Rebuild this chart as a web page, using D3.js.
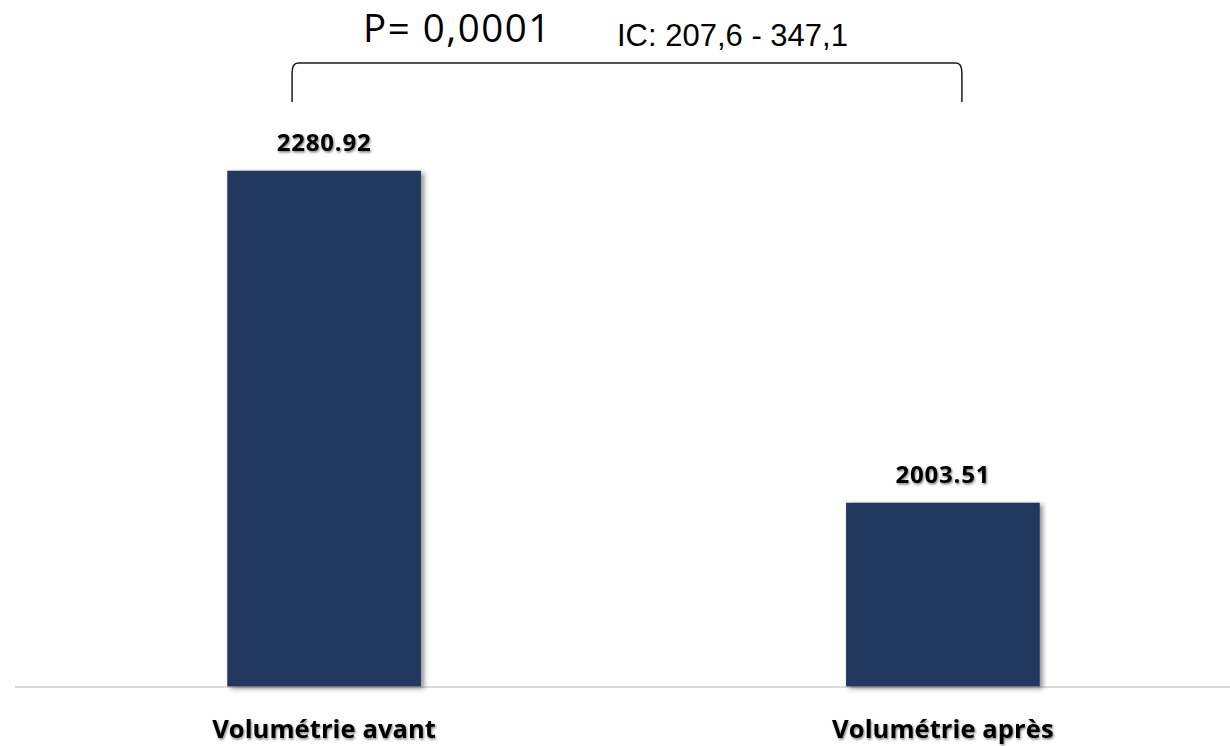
<!DOCTYPE html>
<html>
<head>
<meta charset="utf-8">
<script src="https://cdn.jsdelivr.net/npm/d3@7"></script>
<style>
  body { margin: 0; background: #fff; }
  svg { display: block; }
</style>
</head>
<body>
<div id="chart"></div>
<script>
// data
var categories = ["Volumétrie avant", "Volumétrie après"];
var values = [2280.92, 2003.51];
var valueLabels = ["2280.92", "2003.51"];
var pText = "P= 0,0001";
var icText = "IC: 207,6 - 347,1";

var width = 1230, height = 746;

var svg = d3.select("#chart").append("svg")
  .attr("width", width)
  .attr("height", height);

var defs = svg.append("defs");
defs.append("filter").attr("id", "barShadow")
  .attr("x", "-10%").attr("y", "-10%").attr("width", "130%").attr("height", "130%")
  .append("feDropShadow")
  .attr("dx", 3).attr("dy", 2).attr("stdDeviation", 2.5)
  .attr("flood-color", "#000").attr("flood-opacity", 0.45);
defs.append("filter").attr("id", "textShadow")
  .attr("x", "-10%").attr("y", "-30%").attr("width", "130%").attr("height", "160%")
  .append("feDropShadow")
  .attr("dx", 1).attr("dy", 1.5).attr("stdDeviation", 1.2)
  .attr("flood-color", "#000").attr("flood-opacity", 0.5);

var x = d3.scaleBand()
  .domain(categories)
  .range([15, 1252])
  .paddingInner(0.687)
  .paddingOuter(0.343);

var y = d3.scaleLinear()
  .domain([1850, 2300])
  .range([686.4, 147.9]);

// baseline
svg.append("line")
  .attr("x1", 15).attr("x2", width)
  .attr("y1", y(1850) + 0.5).attr("y2", y(1850) + 0.5)
  .attr("stroke", "#d9d9d9")
  .attr("stroke-width", 2);

// bars
svg.selectAll(".bar")
  .data(values)
  .enter().append("rect")
  .attr("class", "bar")
  .attr("x", function(d, i) { return x(categories[i]); })
  .attr("y", function(d) { return y(d); })
  .attr("width", x.bandwidth())
  .attr("height", function(d) { return y(1850) - y(d); })
  .attr("fill", "#22385f")
  .attr("filter", "url(#barShadow)");

// value labels
svg.selectAll(".val")
  .data(values)
  .enter().append("text")
  .attr("class", "val")
  .attr("x", function(d, i) { return x(categories[i]) + x.bandwidth() / 2; })
  .attr("y", function(d) { return y(d) - 20; })
  .attr("text-anchor", "middle")
  .attr("font-family", "'Open Sans', sans-serif")
  .attr("font-weight", 700)
  .attr("font-size", 24)
  .attr("letter-spacing", 0.8)
  .attr("fill", "#000")
  .attr("filter", "url(#textShadow)")
  .text(function(d, i) { return valueLabels[i]; });

// category labels
svg.selectAll(".cat")
  .data(categories)
  .enter().append("text")
  .attr("class", "cat")
  .attr("x", function(d) { return x(d) + x.bandwidth() / 2; })
  .attr("y", 738)
  .attr("text-anchor", "middle")
  .attr("font-family", "'Open Sans', sans-serif")
  .attr("font-weight", 700)
  .attr("font-size", 25.5)
  .attr("letter-spacing", 0.1)
  .attr("fill", "#000")
  .attr("filter", "url(#textShadow)")
  .text(function(d) { return d; });

// bracket
var c1 = x(categories[0]) + x.bandwidth() / 2;
var c2 = x(categories[1]) + x.bandwidth() / 2;
var bl = c1 - 32, br = c2 + 19, bt = 63, bb = 102;
svg.append("path")
  .attr("d", "M" + bl + "," + bb + " L" + bl + "," + (bt + 10) +
    " Q" + bl + "," + bt + " " + (bl + 6) + "," + bt +
    " L" + (br - 6) + "," + bt +
    " Q" + br + "," + bt + " " + br + "," + (bt + 10) +
    " L" + br + "," + bb)
  .attr("fill", "none")
  .attr("stroke", "#1a1a1a")
  .attr("stroke-width", 1.5);

svg.append("text")
  .attr("x", 363).attr("y", 42)
  .attr("font-family", "'Open Sans', sans-serif")
  .attr("font-size", 38.5)
  .attr("letter-spacing", 1.5)
  .attr("fill", "#000")
  .text(pText);

svg.append("text")
  .attr("x", 617).attr("y", 46)
  .attr("font-family", "'Liberation Sans', Arial, sans-serif")
  .attr("font-size", 31)
  .attr("fill", "#000")
  .text(icText);
</script>
</body>
</html>
